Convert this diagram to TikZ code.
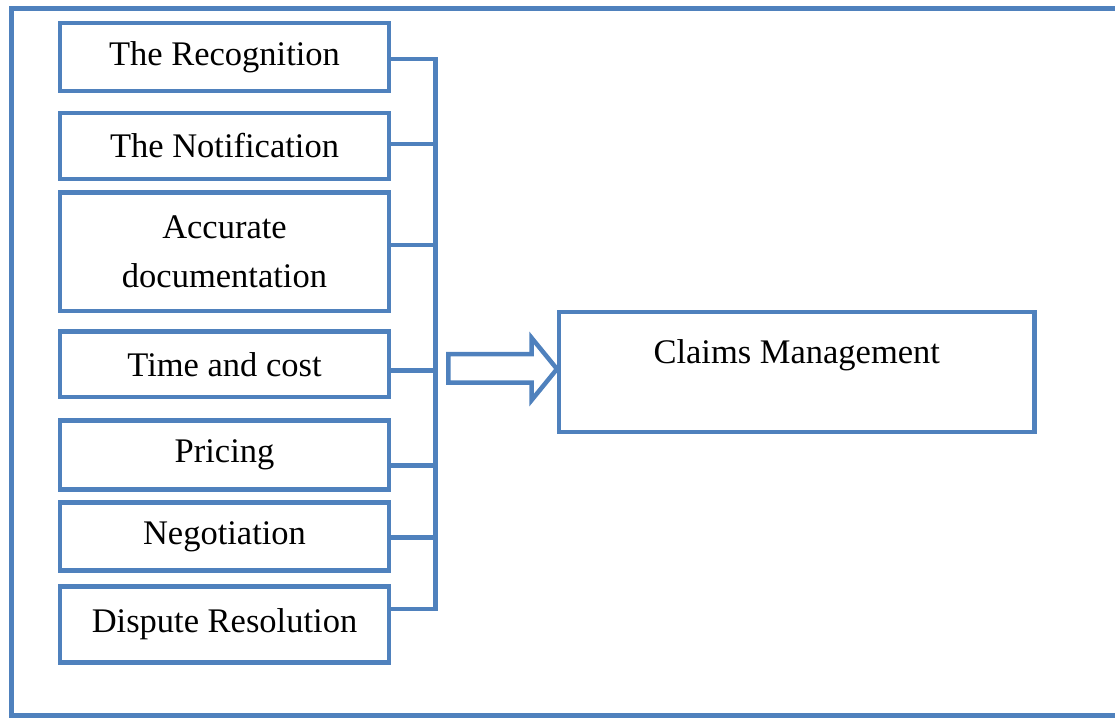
\documentclass[tikz,border=0pt]{standalone}
\usepackage{fontspec}
\setmainfont{Liberation Serif}
\definecolor{frameblue}{RGB}{79,129,189}
\begin{document}
\begin{tikzpicture}[x=1pt,y=-1pt,
  line join=miter,
  framed/.style={draw=frameblue, line width=4.5pt},
  wire/.style={draw=frameblue, line width=4.5pt},
  txt/.style={font=\fontsize{34.5}{48.3}\selectfont, text=black},
  item/.style={framed, txt, rectangle, inner sep=0pt, minimum width=329pt, align=center}]
\useasboundingbox (0,0) rectangle (1115,718);

% outer frame, running off to the right
\draw[wire] (1130,8.5) -- (11.5,8.5) -- (11.5,715.5) -- (1130,715.5);

% factor boxes
\node[item, minimum height=68pt]    (b1) at (224.5,57)    {The Recognition};
\node[item, minimum height=66pt]    (b2) at (224.5,146)   {The Notification};
\node[item, minimum height=118.5pt] (b3) at (224.5,251.75) {Accurate\\documentation};
\node[item, minimum height=65.3pt]  (b4) at (224.5,364.3) {Time and cost};
\node[item, minimum height=69pt]    (b5) at (224.5,455)   {Pricing};
\node[item, minimum height=68.2pt]  (b6) at (224.5,536.6) {Negotiation};
\node[item, minimum height=75.8pt]  (b7) at (224.5,624.6) {Dispute Resolution};

% bracket joining the boxes
\coordinate (bus1) at (435.5,59);
\coordinate (bus2) at (435.5,144);
\coordinate (bus3) at (435.5,245);
\coordinate (bus4) at (435.5,370.5);
\coordinate (bus5) at (435.5,465.5);
\coordinate (bus6) at (435.5,537.5);
\coordinate (bus7) at (435.5,609);
\draw[wire] (b1.east |- bus1) -- (bus1) -- (bus7) -- (b7.east |- bus7);
\foreach \i in {2,...,6} {
  \draw[wire] (b\i.east |- bus\i) -- (bus\i);
}

% result box
\node[framed, rectangle, inner sep=0pt, minimum width=475.5pt, minimum height=119.7pt] (claims) at (796.75,371.9) {};
\node[txt, anchor=base, inner sep=0pt] (claimslabel) at (796.75,363.3) {Claims Management};

% hollow block arrow pointing at the result box
\draw[wire] (448.3,354) -- (531.7,354) -- (531.7,338) -- (557,369)
  -- (531.7,400) -- (531.7,382.5) -- (448.3,382.5) -- cycle;
\end{tikzpicture}
\end{document}
